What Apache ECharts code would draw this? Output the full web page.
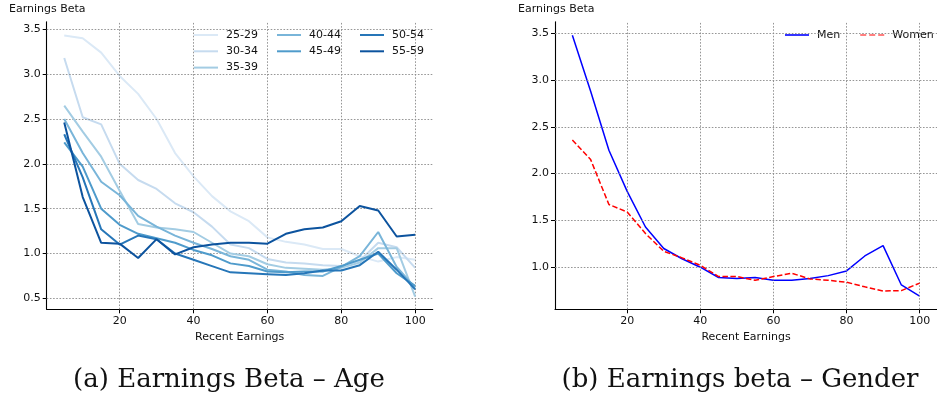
<!DOCTYPE html>
<html>
<head>
<meta charset="utf-8">
<script src="https://cdn.jsdelivr.net/npm/echarts@6/dist/echarts.min.js"></script>
<style>
html,body{margin:0;padding:0;background:#fff;}
#c{width:937px;height:399px;}
</style>
</head>
<body>
<div id="c"></div>
<script>
// ---------- data ----------
var earnings = [5,10,15,20,25,30,35,40,45,50,55,60,65,70,75,80,85,90,95,100];
var ageGroups = ['25-29','30-34','35-39','40-44','45-49','50-54','55-59'];
var age2529 = [3.43,3.40,3.24,2.98,2.78,2.50,2.12,1.86,1.64,1.47,1.36,1.18,1.13,1.10,1.05,1.05,0.97,0.91,0.96,0.93];
var age3034 = [3.18,2.52,2.44,2.00,1.82,1.72,1.56,1.46,1.30,1.10,1.06,0.94,0.90,0.89,0.87,0.86,0.92,1.12,1.07,0.84];
var age3539 = [2.65,2.36,2.08,1.70,1.33,1.29,1.27,1.24,1.12,1.00,0.97,0.88,0.84,0.83,0.82,0.84,0.90,1.06,1.06,0.52];
var age4044 = [2.50,2.12,1.80,1.65,1.42,1.30,1.20,1.12,1.05,0.97,0.93,0.82,0.80,0.76,0.75,0.85,0.97,1.24,0.85,0.62];
var age4549 = [2.24,1.97,1.50,1.32,1.22,1.17,1.12,1.04,0.98,0.89,0.86,0.80,0.79,0.80,0.80,0.86,0.93,1.00,0.78,0.64];
var age5054 = [2.33,1.85,1.27,1.10,1.20,1.16,1.00,0.93,0.86,0.79,0.78,0.77,0.76,0.78,0.81,0.81,0.87,1.02,0.82,0.60];
var age5559 = [2.46,1.63,1.12,1.11,0.95,1.16,0.99,1.07,1.10,1.12,1.12,1.11,1.22,1.27,1.29,1.36,1.53,1.48,1.19,1.21];
var ageSeries = [age2529,age3034,age3539,age4044,age4549,age5054,age5559];
var men   = [3.48,2.88,2.25,1.81,1.43,1.20,1.09,1.00,0.89,0.88,0.89,0.86,0.86,0.88,0.91,0.96,1.12,1.23,0.81,0.69];
var women = [2.36,2.15,1.67,1.59,1.36,1.17,1.10,1.02,0.90,0.90,0.86,0.90,0.935,0.875,0.86,0.84,0.79,0.745,0.75,0.83];
var yTicks = [0.5,1.0,1.5,2.0,2.5,3.0,3.5];
var yTicksR = [1.0,1.5,2.0,2.5,3.0,3.5];
var xTicks = [20,40,60,80,100];

// ---------- styling ----------
var blues = ['#dbe9f6','#c6dbef','#a3cce3','#79b5d9','#4f9bcb','#2676b8','#0c539e'];
var FONT = 'DejaVu Sans';
var gridLineStyle = {color:'#8a8a8a', width:0.9, type:[1.6,1.6]};

function pair(xs, ys){ return xs.map(function(x,i){ return [x, ys[i]]; }); }

function xAxisCfg(idx){
  return {
    type:'value', gridIndex:idx, min:0.25, max:104.75,
    name:'Recent Earnings', nameLocation:'middle', nameGap:20,
    nameTextStyle:{fontFamily:FONT, fontSize:11, color:'#111'},
    axisLine:{show:true, onZero:false, lineStyle:{color:'#000', width:1.1}},
    axisTick:{show:true, length:4, customValues:xTicks, lineStyle:{color:'#000', width:1}},
    axisLabel:{customValues:xTicks, fontFamily:FONT, fontSize:11, color:'#111', margin:6},
    splitLine:{show:false}
  };
}
function yAxisCfg(idx, mn, mx, ticks){
  return {
    type:'value', gridIndex:idx, min:mn, max:mx,
    axisLine:{show:true, onZero:false, lineStyle:{color:'#000', width:1.1}},
    axisTick:{show:true, length:4, customValues:ticks, lineStyle:{color:'#000', width:1}},
    axisLabel:{customValues:ticks, fontFamily:FONT, fontSize:11, color:'#111', margin:6,
      formatter:function(v){ return v.toFixed(1); }},
    splitLine:{show:false}
  };
}
function gridMarks(ticksY){
  var d = [];
  ticksY.forEach(function(v){ d.push({yAxis:v}); });
  xTicks.forEach(function(v){ d.push({xAxis:v}); });
  return {silent:true, symbol:['none','none'], label:{show:false}, lineStyle:gridLineStyle,
          emphasis:{disabled:true}, animation:false, data:d};
}

var series = [];
ageSeries.forEach(function(vals, i){
  var s = {
    name: ageGroups[i], type:'line', xAxisIndex:0, yAxisIndex:0,
    data: pair(earnings, vals), symbol:'none', smooth:false,
    lineStyle:{color:blues[i], width:2}, itemStyle:{color:blues[i]},
    z: 3 + i, animation:false
  };
  if(i === 0){ s.markLine = gridMarks(yTicks); }
  series.push(s);
});
series.push({
  name:'Men', type:'line', xAxisIndex:1, yAxisIndex:1,
  data: pair(earnings, men), symbol:'none',
  lineStyle:{color:'#0000ff', width:1.5}, itemStyle:{color:'#0000ff'},
  z:4, animation:false, markLine: gridMarks(yTicksR)
});
series.push({
  name:'Women', type:'line', xAxisIndex:1, yAxisIndex:1,
  data: pair(earnings, women), symbol:'none',
  lineStyle:{color:'#ff0000', width:1.5, type:[5.5,2.4]}, itemStyle:{color:'#ff0000'},
  z:5, animation:false
});

function legendCfg(names, left){
  return {
    data:names, orient:'vertical', left:left, top:28, padding:0,
    icon:'rect', itemWidth:24, itemHeight:2, itemGap:2.3,
    textStyle:{fontFamily:FONT, fontSize:11, color:'#111', lineHeight:14, height:14, padding:[0,0,0,3]},
    selectedMode:false
  };
}
var dashIcon = 'path://M0,0h5.5v1h-5.5z M8.2,0h5.5v1h-5.5z M16.4,0h5.5v1h-5.5z';

var option = {
  animation:false,
  backgroundColor:'#fff',
  grid:[
    {left:46.7, top:21.7, width:386, height:287.6},
    {left:555, top:21.7, width:387, height:287.6}
  ],
  xAxis:[xAxisCfg(0), xAxisCfg(1)],
  yAxis:[yAxisCfg(0, 0.378, 3.585, yTicks), yAxisCfg(1, 0.55, 3.624, yTicksR)],
  legend:[
    legendCfg(['25-29','30-34','35-39'], 194),
    legendCfg(['40-44','45-49'], 277),
    legendCfg(['50-54','55-59'], 360),
    {data:[{name:'Men', icon:'rect'},{name:'Women', icon:dashIcon}],
     orient:'horizontal', left:785, top:28, padding:0, width:200,
     itemWidth:24, itemHeight:1.6, itemGap:20,
     textStyle:{fontFamily:FONT, fontSize:11, color:'#111', lineHeight:14, height:14, padding:[0,0,0,3]},
     selectedMode:false}
  ],
  graphic:[
    {type:'text', left:9, top:4, style:{text:'Earnings Beta', font:'11px "DejaVu Sans"', fill:'#111'}},
    {type:'text', left:518, top:4, style:{text:'Earnings Beta', font:'11px "DejaVu Sans"', fill:'#111'}},
    {type:'text', x:229, y:380, style:{text:'(a) Earnings Beta \u2013 Age', font:'26px "DejaVu Serif"', fill:'#111', align:'center', verticalAlign:'middle'}},
    {type:'text', x:740, y:380, style:{text:'(b) Earnings beta \u2013 Gender', font:'26px "DejaVu Serif"', fill:'#111', align:'center', verticalAlign:'middle'}}
  ],
  series:series
};

var chart = echarts.init(document.getElementById('c'), null, {renderer:'canvas'});
chart.setOption(option);
</script>
</body>
</html>
